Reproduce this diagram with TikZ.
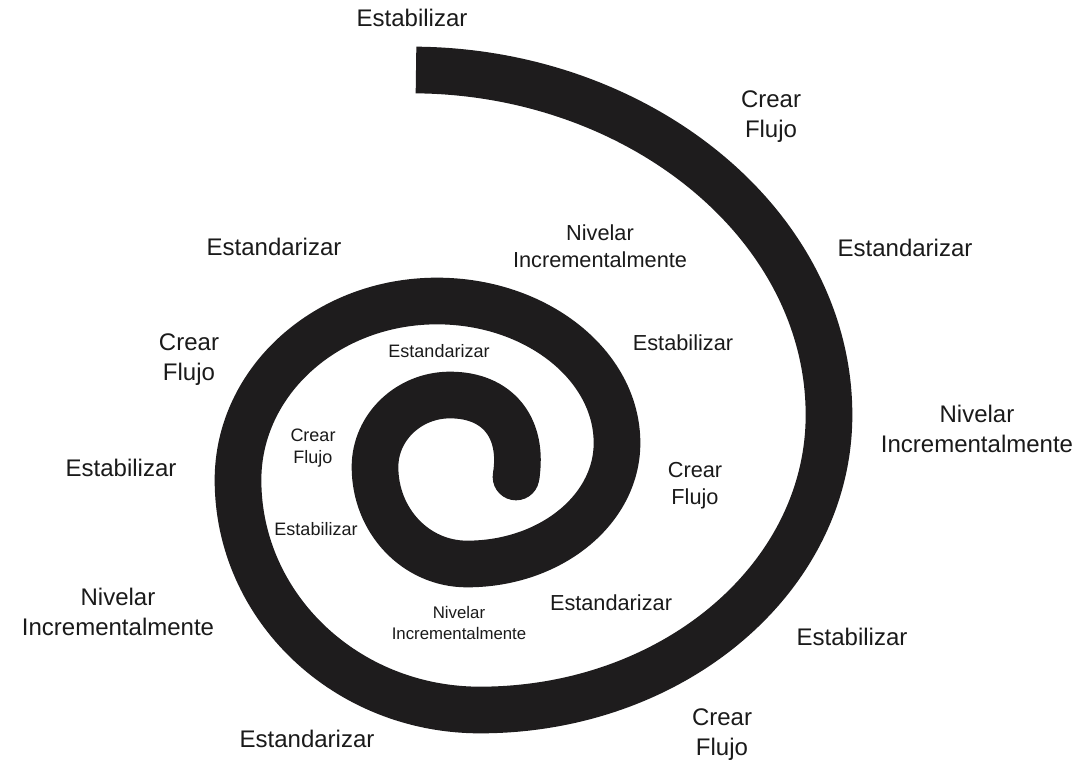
\documentclass[tikz,border=0pt]{standalone}
\usepackage{fontspec}
\setmainfont{Liberation Sans}
\definecolor{spiralcol}{HTML}{1E1C1D}
\definecolor{txtcol}{HTML}{1A1A1A}
\begin{document}
\begin{tikzpicture}[x=0.75pt,y=-0.75pt,
  spiral/.style={draw=spiralcol, line width=35pt, line cap=butt, line join=round},
  lblL/.style={font=\fontsize{18}{22.5}\selectfont, align=center, inner sep=0pt, text=txtcol},
  lblM/.style={font=\fontsize{16.3}{20.25}\selectfont, align=center, inner sep=0pt, text=txtcol},
  lblS/.style={font=\fontsize{13.5}{16.5}\selectfont, align=center, inner sep=0pt, text=txtcol},
  lblXS/.style={font=\fontsize{12.6}{15.75}\selectfont, align=center, inner sep=0pt, text=txtcol}]
\fill[white] (0,0) rectangle (1081,763);
\useasboundingbox (0,0) rectangle (1081,763);

% spiral
\coordinate (sp0) at (416,70);
\draw[spiral] (sp0)
  .. controls (640,72) and (829,225) .. (829,415)
  .. controls (829,578) and (673,710) .. (480,710)
  .. controls (346,710) and (238,607) .. (238,480)
  .. controls (238,381) and (327,301) .. (437,301)
  .. controls (536,301) and (617,365) .. (617,443)
  .. controls (617,510) and (550,564) .. (467,564)
  .. controls (416,564) and (375,521) .. (375,467)
  .. controls (375,427) and (409,395) .. (450,395)
  .. controls (498,395) and (524,428) .. (516,477) coordinate (spend);
\fill[spiralcol] (spend) circle (17.5pt);

% outer labels
\node[lblL] (estab1) at (412,18) {Estabilizar};
\node[lblL] (flujo1) at (771,117) {Crear\\Flujo};
\node[lblL] (estand1) at (905,248) {Estandarizar};
\node[lblL] (nivel1) at (977,429) {Nivelar\\Incrementalmente};
\node[lblL] (estab2) at (852,637) {Estabilizar};
\node[lblL] (flujo2) at (722,735) {Crear\\Flujo};
\node[lblL] (estand2) at (307,739) {Estandarizar};
\node[lblL] (nivel2) at (118,612) {Nivelar\\Incrementalmente};
\node[lblL] (estab3) at (121,468) {Estabilizar};
\node[lblL] (flujo3) at (189,360) {Crear\\Flujo};
\node[lblL] (estand3) at (274,247) {Estandarizar};
% middle labels
\node[lblM] (nivel3) at (600,246) {Nivelar\\Incrementalmente};
\node[lblM] (estab4) at (683,343) {Estabilizar};
\node[lblM] (flujo4) at (695,486) {Crear\\Flujo};
\node[lblM] (estand4) at (611,603) {Estandarizar};
% inner labels
\node[lblXS] (nivel4) at (459,623) {Nivelar\\Incrementalmente};
\node[lblS] (estab5) at (316,529) {Estabilizar};
\node[lblS] (flujo5) at (313,448) {Crear\\Flujo};
\node[lblS] (estand5) at (439,351) {Estandarizar};
\end{tikzpicture}
\end{document}
